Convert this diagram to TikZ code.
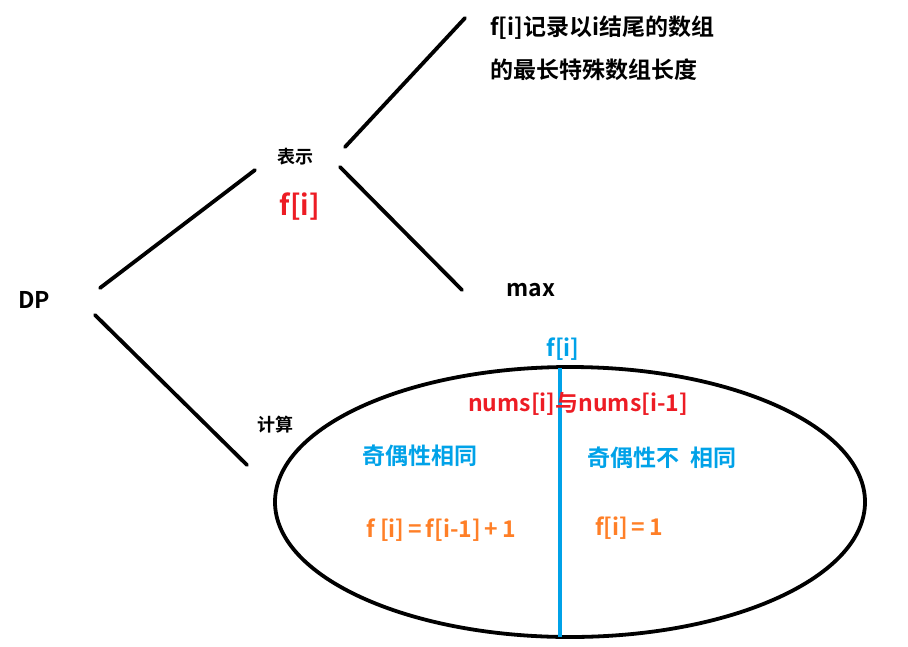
\documentclass[tikz,border=0pt]{standalone}
\usepackage{fontspec}
\usetikzlibrary{shapes.geometric}
\setmainfont{Noto Sans CJK SC}[BoldFont={Noto Sans CJK SC Bold}]
\definecolor{pred}{HTML}{ED1C24}
\definecolor{pblue}{HTML}{00A2E8}
\definecolor{porange}{HTML}{FF7F27}
\begin{document}
\begin{tikzpicture}[x=1pt,y=-1pt,
  lbl/.style={inner sep=0pt,font=\bfseries\fontsize{#1}{#1}\selectfont},
  lbl/.default=23,
  stroke/.style={line width=3.8pt,line cap=round}]
\useasboundingbox[fill=white] (0,0) rectangle (908,646);
\node[lbl=23] (dp) at (34,300) {DP};
\node[lbl=18] (biaoshi) at (295,157) {表示};
\node[lbl=28,text=pred] (fi) at (300,207) {f[i]};
\node[lbl=18] (jisuan) at (275,425) {计算};
\node[lbl=23] (max) at (531,290) {max};
\node[lbl=23,anchor=west] (desc1) at (490,28) {f[i]记录以i结尾的数组};
\node[lbl=23,anchor=west] (desc2) at (490,70) {的最长特殊数组长度};
\coordinate (a1) at (100,288); \coordinate (a2) at (255,170);
\coordinate (b1) at (95,315); \coordinate (b2) at (247,465);
\coordinate (c1) at (345,147); \coordinate (c2) at (465,18);
\coordinate (d1) at (340,167); \coordinate (d2) at (462,290);
\draw[stroke] (a1) -- (a2);
\draw[stroke] (b1) -- (b2);
\draw[stroke] (c1) -- (c2);
\draw[stroke] (d1) -- (d2);
\node[draw,line width=3.8pt,ellipse,minimum width=590pt,minimum height=270pt,inner sep=0pt] (ell) at (570,502) {};
\draw[line width=4.5pt,draw=pblue] (560,368) coordinate (v1) -- (560,637) coordinate (v2);
\node[lbl=23,text=pblue] (fib) at (563,349) {f[i]};
\node[lbl=23,text=pred] (nums) at (578,404) {nums[i]与nums[i-1]};
\node[lbl=23,text=pblue] (same) at (420,456) {奇偶性相同};
\node[lbl=23,text=pblue] (diff) at (662,458) {奇偶性不\ \ 相同};
\node[lbl=23,text=porange] (f1) at (441,530) {f [i]\,=\,f[i-1]\,+\,1};
\node[lbl=23,text=porange] (f2) at (629,528) {f[i]\,=\,1};
\end{tikzpicture}
\end{document}
